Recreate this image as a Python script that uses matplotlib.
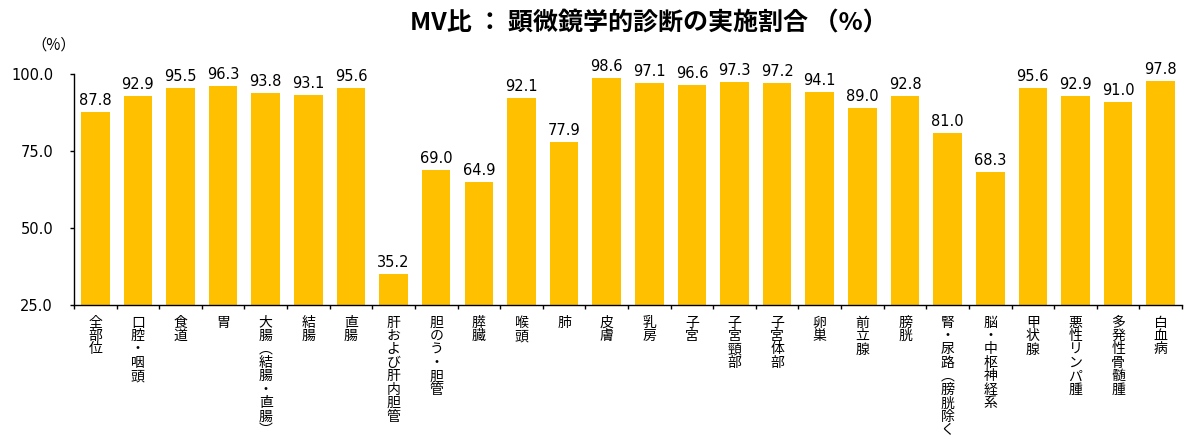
import matplotlib
matplotlib.use("Agg")
import matplotlib.pyplot as plt
import numpy as np

plt.rcParams['font.family'] = ['Noto Sans CJK JP', 'DejaVu Sans']

# 部位名（縦書き用）
sites = ["全部位", "口腔・咽頭", "食道", "胃", "大腸︵結腸・直腸︶", "結腸", "直腸",
         "肝および肝内胆管", "胆のう・胆管", "膵臓", "喉頭", "肺", "皮膚", "乳房",
         "子宮", "子宮頸部", "子宮体部", "卵巣", "前立腺", "膀胱",
         "腎・尿路︵膀胱除く︶", "脳・中枢神経系", "甲状腺", "悪性リンパ腫",
         "多発性骨髄腫", "白血病"]
# 顕微鏡学的診断の実施割合（%）
ratio = [87.8, 92.9, 95.5, 96.3, 93.8, 93.1, 95.6, 35.2, 69.0, 64.9, 92.1, 77.9,
         98.6, 97.1, 96.6, 97.3, 97.2, 94.1, 89.0, 92.8, 81.0, 68.3, 95.6, 92.9,
         91.0, 97.8]
yticks = [25.0, 50.0, 75.0, 100.0]

fig = plt.figure(figsize=(11.87, 4.36), dpi=100)
ax = fig.add_axes([0.0623, 0.300, 0.9335, 0.530])

x = np.arange(len(sites))
ax.bar(x, ratio, width=0.67, color="#FFC000", zorder=2)
for xi, v in zip(x, ratio):
    ax.text(xi, v + 1.3, f"{v:.1f}", ha="center", va="bottom", fontsize=10.5,
            family="DejaVu Sans")

ax.set_xlim(-0.5, len(sites) - 0.5)
ax.set_ylim(25, 100)
ax.set_yticks(yticks)
ax.set_yticklabels([f"{t:.1f}" for t in yticks], family="DejaVu Sans", fontsize=10.5)
ax.tick_params(axis="y", direction="out", length=3, width=1, pad=12)

# 区切り目盛り
ax.set_xticks(np.arange(len(sites) + 1) - 0.5)
ax.set_xticklabels([])
ax.tick_params(axis="x", direction="out", length=3, width=1)
for xi, s in zip(x, sites):
    ax.text(xi, -0.045, "\n".join(s), transform=ax.get_xaxis_transform(),
            ha="center", va="top", fontsize=10, linespacing=0.95)

for sp in ["top", "right"]:
    ax.spines[sp].set_visible(False)
ax.spines["left"].set_linewidth(1)
ax.spines["bottom"].set_linewidth(1)

fig.text(0.045, 0.897, "（%）", fontsize=11, ha="center", va="center")
fig.text(0.547, 0.947, "MV比 ： 顕微鏡学的診断の実施割合 （%）", fontsize=18,
         fontweight="bold", ha="center", va="center")

fig.savefig("out.png", dpi=100)
